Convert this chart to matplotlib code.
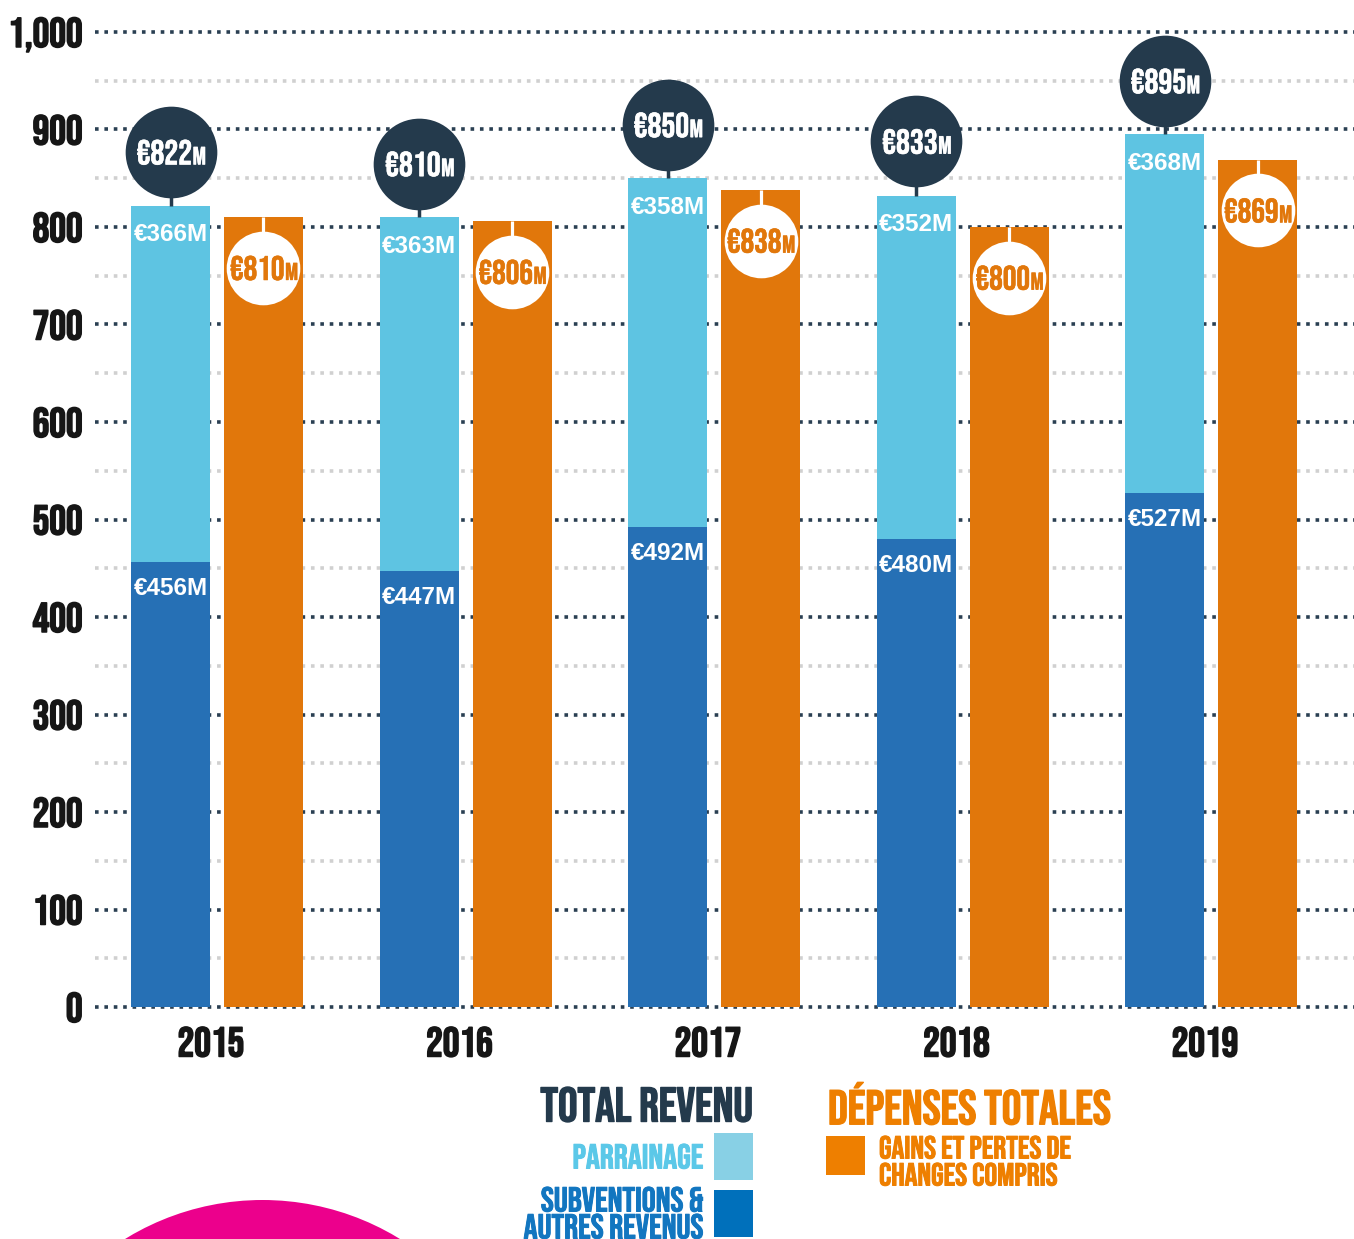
import matplotlib
matplotlib.use("Agg")
import matplotlib.pyplot as plt
import matplotlib.patheffects as pe
from matplotlib.patches import Circle, Rectangle

years = ["2015", "2016", "2017", "2018", "2019"]
sponsorship = [366, 363, 358, 352, 368]
grants_other = [456, 447, 492, 480, 527]
total_revenue = [822, 810, 850, 833, 895]
total_expenses = [810, 806, 838, 800, 869]
y_ticks = [0, 100, 200, 300, 400, 500, 600, 700, 800, 900, 1000]
y_tick_labels = ["0", "100", "200", "300", "400", "500", "600", "700", "800", "900", "1,000"]

BEBAS = ["Bebas Neue", "Oswald", "DejaVu Sans"]
SANS = ["Liberation Sans", "DejaVu Sans"]

C_LIGHT = "#5ec4e2"
C_DARK = "#2670b5"
C_ORANGE = "#e1770b"
C_NAVY = "#243a4c"
C_GRID_DARK = "#2a3f52"
C_GRID_LIGHT = "#d0d0d0"


def bold(color, w=1.0):
    return [pe.withStroke(linewidth=w, foreground=color)]


W, H = 1354, 1239
fig = plt.figure(figsize=(W / 100, H / 100), dpi=100)
ax = fig.add_axes([95 / W, 222.25 / H, 1259 / W, 1014 / H])
ax.set_xlim(-0.491, 4.575)
ax.set_ylim(-10, 1030)
for s in ax.spines.values():
    s.set_visible(False)

# gridlines
for v in range(50, 1000, 100):
    ax.axhline(v, color=C_GRID_LIGHT, lw=2.6, dashes=(1, 1.6), dash_capstyle="butt", zorder=0)
for v in y_ticks:
    ax.axhline(v, color=C_GRID_DARK, lw=2.6, dashes=(1, 1.6), dash_capstyle="butt", zorder=0)

xs = list(range(len(years)))
off = 0.187
bw = 0.318
xb = [x - off for x in xs]
xo = [x + off for x in xs]

ax.bar(xb, grants_other, width=bw, color=C_DARK, zorder=2)
ax.bar(xb, sponsorship, width=bw, bottom=grants_other, color=C_LIGHT, zorder=2)
ax.bar(xo, total_expenses, width=bw, color=C_ORANGE, zorder=2)


def bubble_text(x, y, num, color, size, msize, shift):
    t = ax.annotate(num, xy=(x, y), xytext=(-shift, 0), textcoords="offset points",
                    ha="center", va="center", color=color, fontsize=size,
                    family=BEBAS, zorder=6, path_effects=bold(color, 0.45))
    ax.annotate("M", xy=(1, 0), xycoords=t, xytext=(0.4, 0), textcoords="offset points",
                ha="left", va="bottom", color=color, fontsize=msize,
                family=BEBAS, zorder=6, path_effects=bold(color, 0.35))


for i in xs:
    # segment labels
    ax.annotate(f"€{grants_other[i]}M", xy=(xb[i], grants_other[i]), xytext=(0, -19),
                textcoords="offset points", ha="center", va="center", color="white",
                fontsize=17.5, fontweight="bold", family=SANS, zorder=4)
    top = grants_other[i] + sponsorship[i]
    ax.annotate(f"€{sponsorship[i]}M", xy=(xb[i], top), xytext=(0, -21),
                textcoords="offset points", ha="center", va="center", color="white",
                fontsize=17.5, fontweight="bold", family=SANS, zorder=4)
    # total revenue bubble
    cy = total_revenue[i] + 55
    ax.plot([xb[i], xb[i]], [top, cy], color=C_NAVY, lw=2.5, zorder=3, solid_capstyle="butt")
    ax.scatter([xb[i]], [cy], s=66 ** 2, color=C_NAVY, zorder=5, linewidths=0)
    bubble_text(xb[i], cy, f"€{total_revenue[i]}", "white", 25, 18, 4.5)
    # expenses bubble
    ey = total_expenses[i] - 52
    ax.plot([xo[i], xo[i]], [total_expenses[i], ey], color="white", lw=2.3, zorder=3, solid_capstyle="butt")
    ax.scatter([xo[i]], [ey], s=53 ** 2, color="white", zorder=5, linewidths=0)
    bubble_text(xo[i], ey, f"€{total_expenses[i]}", C_ORANGE, 24.5, 17.5, 4.5)

ax.set_yticks(y_ticks)
ax.set_yticklabels(y_tick_labels)
ax.set_xticks([x - 0.025 for x in xs])
ax.set_xticklabels(years)
ax.tick_params(length=0)
ax.tick_params(axis="y", pad=9)
ax.tick_params(axis="x", pad=7)
for lab in ax.get_yticklabels() + ax.get_xticklabels():
    lab.set_family(BEBAS)
    lab.set_fontsize(30)
    lab.set_color("#161616")
    lab.set_path_effects(bold("#161616", 1.1))


def fx(px):
    return px / W


def fy(py):
    return 1 - py / H


# legend
fig.text(fx(753), fy(1104), "TOTAL REVENU", ha="right", va="center", color=C_NAVY,
         fontsize=35, family=BEBAS, path_effects=bold(C_NAVY, 1.0))
fig.text(fx(828), fy(1103), "DÉPENSES TOTALES", ha="left", va="center", color="#ee7f00",
         fontsize=35, family=BEBAS, path_effects=bold("#ee7f00", 1.0))
fig.text(fx(703), fy(1156), "PARRAINAGE", ha="right", va="center", color="#5bc8e8",
         fontsize=25, family=BEBAS, path_effects=bold("#5bc8e8", 0.7))
fig.text(fx(703), fy(1199), "SUBVENTIONS &", ha="right", va="center",
         color="#1276c0", fontsize=25, family=BEBAS, path_effects=bold("#1276c0", 0.7))
fig.text(fx(703), fy(1226), "AUTRES REVENUS", ha="right", va="center",
         color="#1276c0", fontsize=25, family=BEBAS, path_effects=bold("#1276c0", 0.7))
fig.text(fx(879), fy(1147), "GAINS ET PERTES DE", ha="left", va="center",
         color="#ee7f00", fontsize=23, family=BEBAS, path_effects=bold("#ee7f00", 0.7))
fig.text(fx(879), fy(1174), "CHANGES COMPRIS", ha="left", va="center",
         color="#ee7f00", fontsize=23, family=BEBAS, path_effects=bold("#ee7f00", 0.7))

fig.add_artist(Rectangle((fx(714), fy(1180)), 39 / W, 47 / H, transform=fig.transFigure,
                         color="#88d0e5", lw=0))
fig.add_artist(Rectangle((fx(714), fy(1237)), 39 / W, 47 / H, transform=fig.transFigure,
                         color="#0070bb", lw=0))
fig.add_artist(Rectangle((fx(826), fy(1175)), 39 / W, 39 / H, transform=fig.transFigure,
                         color="#ee7f00", lw=0))

# decorative magenta circle at the bottom
fig.add_artist(Circle((2.625, -2.23), 2.62, transform=fig.dpi_scale_trans,
                      color="#ec008c", lw=0, clip_on=False))

fig.savefig("out.png", dpi=100)
